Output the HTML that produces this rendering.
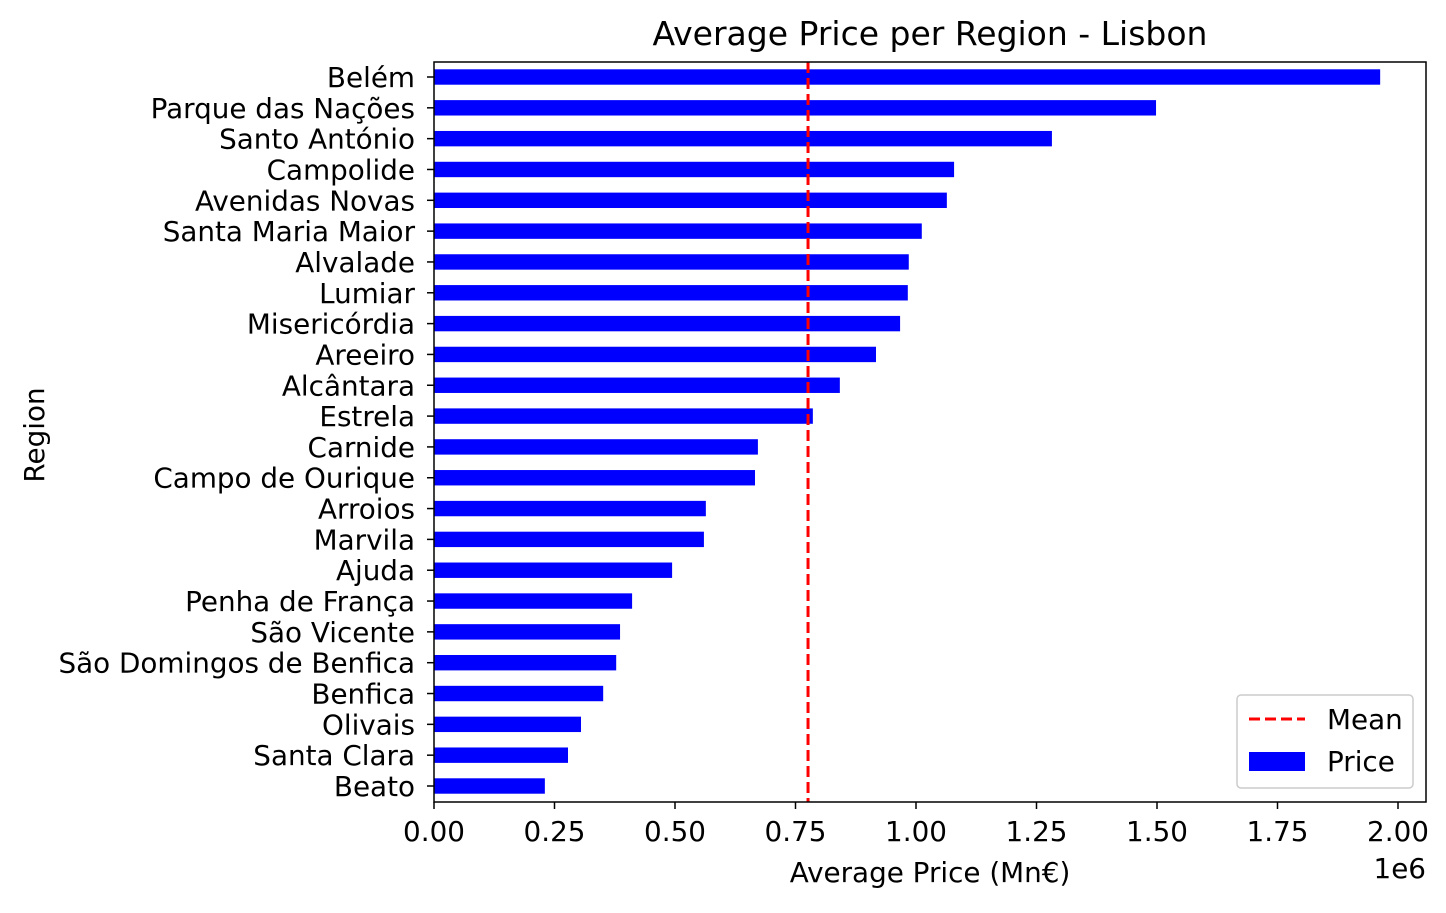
<!DOCTYPE html>
<html><head><meta charset="utf-8"><style>
body{margin:0;background:#fff;}
svg text{font-family:"DejaVu Sans","Liberation Sans",sans-serif;fill:#000;}
</style></head><body>
<svg id="chart" width="1446" height="908" xmlns="http://www.w3.org/2000/svg">
<rect width="1446" height="908" fill="#fff"/>
<text x="930" y="45" text-anchor="middle" font-size="33">Average Price per Region - Lisbon</text>
<g id="bars"></g>
<g id="xticks"></g>
<g id="yticks"></g>
<line id="meanline" stroke="#ff0000" stroke-width="3" stroke-dasharray="11,5"/>
<rect x="434" y="62" width="992" height="740" fill="none" stroke="#000" stroke-width="1.5"/>
<text x="930" y="882" text-anchor="middle" font-size="27.8">Average Price (Mn€)</text>
<text x="1426" y="878" text-anchor="end" font-size="27.8">1e6</text>
<text transform="translate(44,435) rotate(-90)" text-anchor="middle" font-size="27.8">Region</text>
<g>
<rect x="1237" y="695" width="176" height="93" rx="4" fill="#fff" stroke="#ccc" stroke-width="1.5"/>
<line x1="1249" y1="719" x2="1305" y2="719" stroke="#ff0000" stroke-width="3" stroke-dasharray="11,5"/>
<text x="1327" y="729" font-size="27.8">Mean</text>
<rect x="1249" y="752" width="56" height="19" fill="#0000ff"/>
<text x="1327" y="771" font-size="27.8">Price</text>
</g>
</svg>
<script>
const categories=["Belém","Parque das Nações","Santo António","Campolide","Avenidas Novas","Santa Maria Maior","Alvalade","Lumiar","Misericórdia","Areeiro","Alcântara","Estrela","Carnide","Campo de Ourique","Arroios","Marvila","Ajuda","Penha de França","São Vicente","São Domingos de Benfica","Benfica","Olivais","Santa Clara","Beato"];
const prices=[1963000,1498000,1282000,1079000,1064000,1012000,985000,983000,967000,917000,842000,786000,672000,666000,564000,560000,494000,411000,386000,378000,351000,305000,278000,230000];
const meanPrice=776000;
const xTicks=[0,250000,500000,750000,1000000,1250000,1500000,1750000,2000000];
const xTickLabels=["0.00","0.25","0.50","0.75","1.00","1.25","1.50","1.75","2.00"];
const NS="http://www.w3.org/2000/svg";
const x=v=>434+v*482/1e6;
const y=i=>77+i*(709/23);
const bh=15.4;
const bars=document.getElementById('bars'),yt=document.getElementById('yticks'),xt=document.getElementById('xticks');
categories.forEach((c,i)=>{
 const r=document.createElementNS(NS,'rect');
 r.setAttribute('x',x(0));r.setAttribute('y',y(i)-bh/2);r.setAttribute('width',x(prices[i])-x(0));r.setAttribute('height',bh);r.setAttribute('fill','#0000ff');
 
 
 bars.appendChild(r);
 const l=document.createElementNS(NS,'line');
 l.setAttribute('x1',427);l.setAttribute('x2',434);l.setAttribute('y1',y(i));l.setAttribute('y2',y(i));l.setAttribute('stroke','#000');l.setAttribute('stroke-width',1.5);
 yt.appendChild(l);
 const t=document.createElementNS(NS,'text');
 t.setAttribute('x',415);t.setAttribute('y',y(i)+10);t.setAttribute('text-anchor','end');t.setAttribute('font-size',27.8);t.textContent=c;
 
 
 yt.appendChild(t);
});
xTicks.forEach((v,i)=>{
 const l=document.createElementNS(NS,'line');
 l.setAttribute('x1',x(v));l.setAttribute('x2',x(v));l.setAttribute('y1',802);l.setAttribute('y2',809);l.setAttribute('stroke','#000');l.setAttribute('stroke-width',1.5);
 xt.appendChild(l);
 const t=document.createElementNS(NS,'text');
 t.setAttribute('x',x(v));t.setAttribute('y',841);t.setAttribute('text-anchor','middle');t.setAttribute('font-size',27.8);t.textContent=xTickLabels[i];
 
 
 xt.appendChild(t);
});
const m=document.getElementById('meanline');
m.setAttribute('x1',x(meanPrice));m.setAttribute('x2',x(meanPrice));m.setAttribute('y1',62);m.setAttribute('y2',802);
</script>
</body></html>
